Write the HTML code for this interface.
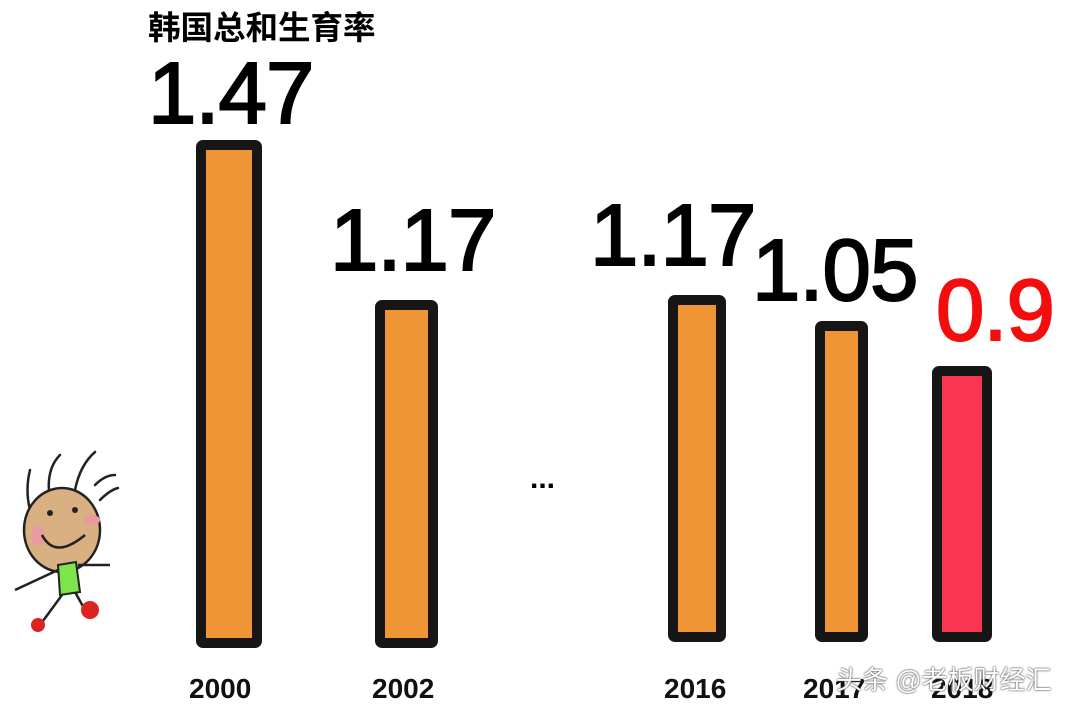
<!DOCTYPE html><html><head><meta charset="utf-8"><style>
body{margin:0;width:1080px;height:709px;background:#fff;position:relative;overflow:hidden;font-family:"Liberation Sans","Noto Sans CJK SC",sans-serif}
.b{position:absolute;border:10px solid #161616;border-radius:7px;background:#ef9535;box-sizing:border-box}
.v{position:absolute;font-size:87px;line-height:1;color:#000;letter-spacing:-1px;-webkit-text-stroke:2px currentColor}
.y{position:absolute;top:673px;font-size:28px;font-weight:bold;color:#111}
</style></head><body>
<div style="position:absolute;left:148px;top:2px;font-size:32.5px;font-weight:bold;">韩国总和生育率</div>
<div class="v" style="left:148px;top:50px">1.47</div>
<div class="v" style="left:330px;top:197px">1.17</div>
<div class="v" style="left:590px;top:192px">1.17</div>
<div class="v" style="left:752px;top:227px">1.05</div>
<div class="v" style="left:936px;top:267px;color:#f40d0d">0.9</div>
<div class="b" style="left:196px;top:140px;width:66px;height:508px"></div>
<div class="b" style="left:375px;top:300px;width:63px;height:348px"></div>
<div class="b" style="left:668px;top:295px;width:58px;height:347px"></div>
<div class="b" style="left:815px;top:321px;width:53px;height:321px"></div>
<div class="b" style="left:932px;top:366px;width:60px;height:276px;background:#f83552"></div>
<div style="position:absolute;left:530px;top:462px;font-size:30px;font-weight:bold">...</div>
<div class="y" style="left:189px">2000</div>
<div class="y" style="left:372px">2002</div>
<div class="y" style="left:664px">2016</div>
<div class="y" style="left:803px">2017</div>
<div class="y" style="left:931px">2018</div>
<div style="position:absolute;left:836px;top:660px;font-size:26px;color:#fff;text-shadow:0 0 2px #444,0 0 1px #444">头条 @老板财经汇</div>
<svg style="position:absolute;left:0;top:440px" width="140" height="200">
<g fill="none" stroke="#222" stroke-width="2.5" stroke-linecap="round">
<path d="M30 70 Q25 50 30 30 M50 60 Q45 30 60 15 M75 50 Q80 25 95 12 M95 45 Q105 35 115 35 M100 60 Q110 50 118 48"/>
</g>
<ellipse cx="62" cy="90" rx="38" ry="42" fill="#d9b082" stroke="#222" stroke-width="2.5"/>
<ellipse cx="38" cy="95" rx="7" ry="10" fill="#e89aa0"/>
<ellipse cx="92" cy="80" rx="8" ry="5" fill="#e89aa0"/>
<circle cx="50" cy="73" r="3" fill="#222"/><circle cx="75" cy="70" r="3" fill="#222"/>
<path d="M42 95 Q55 120 85 95" fill="none" stroke="#222" stroke-width="2.5"/>
<path d="M58 125 L60 155 L80 152 L76 122Z" fill="#7de54c" stroke="#222" stroke-width="2"/>
<g fill="none" stroke="#222" stroke-width="2.5"><path d="M58 130 L15 150 M78 125 L110 125 M62 155 L40 185 M75 152 L85 170"/></g>
<circle cx="38" cy="185" r="7" fill="#d22"/><circle cx="90" cy="170" r="9" fill="#d22"/>
</svg>
</body></html>
